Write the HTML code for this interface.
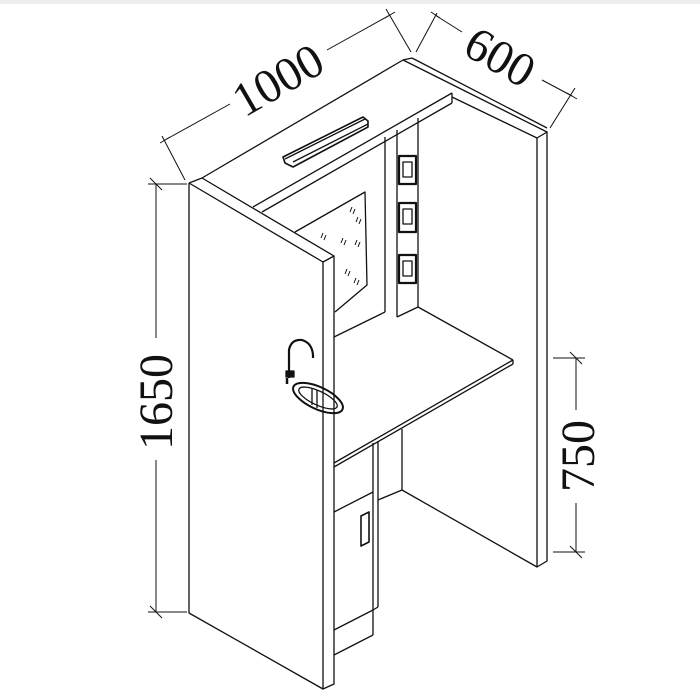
<!DOCTYPE html>
<html><head><meta charset="utf-8"><style>
html,body{margin:0;padding:0;background:#fff;width:700px;height:700px;overflow:hidden}
svg{display:block}
text{font-family:"Liberation Serif",serif;font-size:48px;fill:#111}
</style></head><body>
<svg width="700" height="700" viewBox="0 0 700 700" xmlns="http://www.w3.org/2000/svg">
<rect x="0" y="0" width="700" height="4" fill="#eee"/>
<g fill="none" stroke="#111" stroke-width="1.3" stroke-linejoin="round">
<!-- left side panel -->
<polyline points="189,183 202,178 334,256 323,262 189,183"/>
<polyline points="189,183 189,613 323,689 334,684 334,256"/>
<line x1="323" y1="262" x2="323" y2="689"/>
<!-- top -->
<line x1="202" y1="178" x2="403" y2="60"/>
<line x1="403" y1="60" x2="547" y2="132"/>
<line x1="412" y1="58" x2="547" y2="128"/>
<line x1="403" y1="60" x2="412" y2="58"/>
<!-- right panel -->
<polyline points="537,138 537,567 547,561 547,132 537,138"/>
<line x1="452" y1="97" x2="537" y2="138"/>
<!-- back beam -->
<line x1="253" y1="207" x2="452" y2="93"/>
<line x1="262" y1="212" x2="452" y2="103"/>
<line x1="452" y1="93" x2="452" y2="103"/>
<!-- post -->
<line x1="385" y1="137" x2="385" y2="312"/>
<line x1="397" y1="130" x2="397" y2="317"/>
<line x1="418" y1="118" x2="418" y2="307"/>
<line x1="397" y1="317" x2="418" y2="307"/>
<line x1="334" y1="337" x2="385" y2="312"/>
<!-- pegboard -->
<polyline points="295,232 365,192 367,285 335,312"/>
<g stroke-width="1">
<path d="M321,238 l2,-5 M324,240 l2,-5"/>
<path d="M341,243 l2,-5 M344,245 l2,-5"/>
<path d="M356,222 l2,-5 M359,224 l2,-5"/>
<path d="M355,245 l2,-5 M358,247 l2,-5"/>
<path d="M345,274 l2,-5 M348,276 l2,-5"/>
<path d="M354,283 l2,-5 M357,285 l2,-5"/>
<path d="M350,212 l2,-5 M353,214 l2,-5"/>
</g>
<!-- light bar -->
<polygon points="283,157 363,117 368,121 368,127 293,167 285,163" fill="#fff" stroke-width="1.6"/>
<line x1="285" y1="159" x2="365" y2="119"/>
<line x1="293" y1="162" x2="368" y2="124"/>
<!-- sockets -->
<g stroke-width="2.2">
<rect x="399" y="156" width="17" height="28"/>
<rect x="399" y="203" width="17" height="29"/>
<rect x="399" y="255" width="17" height="28"/>
</g>
<rect x="403" y="162" width="9" height="15"/>
<rect x="403" y="209" width="9" height="15"/>
<rect x="403" y="261" width="9" height="15"/>
<!-- desk -->
<line x1="418" y1="307" x2="513" y2="360"/>
<line x1="513" y1="360" x2="513" y2="364"/>
<line x1="513" y1="364" x2="334" y2="467"/>
<line x1="334" y1="463" x2="513" y2="360"/>
<!-- cabinet -->
<line x1="373" y1="443" x2="373" y2="635"/>
<line x1="378" y1="441" x2="378" y2="607"/>
<line x1="373" y1="610" x2="378" y2="607"/>
<line x1="334" y1="512" x2="373" y2="492"/>
<line x1="334" y1="630" x2="373" y2="610"/>
<line x1="334" y1="655" x2="373" y2="635"/>
<polygon points="361,516 369,512 369,542 361,546" stroke-width="1.6"/>
<line x1="402" y1="429" x2="402" y2="490"/>
<line x1="378" y1="500" x2="402" y2="490"/>
<line x1="402" y1="490" x2="537" y2="567"/>
<!-- faucet -->
<path d="M289,378 L289,350 Q291,339 302,340 Q312,343 313,355 L313,358" stroke-width="2.2"/>
<rect x="286" y="371" width="8" height="6" fill="#111"/>
<line x1="287" y1="378" x2="287" y2="384" stroke-width="2.5"/>
<!-- sink -->
<ellipse cx="318" cy="398" rx="27" ry="11" transform="rotate(25 318 398)" stroke-width="2"/>
<ellipse cx="318" cy="398" rx="21" ry="7" transform="rotate(25 318 398)"/>
<line x1="312" y1="388" x2="312" y2="405"/>
<line x1="317" y1="390" x2="317" y2="408"/>
</g>
<!-- dimensions -->
<g stroke="#111" stroke-width="1" fill="none">
<line x1="185" y1="180" x2="162" y2="136"/>
<line x1="411" y1="52" x2="386" y2="9"/>
<line x1="165" y1="140" x2="230" y2="104"/>
<line x1="327" y1="50" x2="390" y2="15"/>
<line x1="160" y1="143" x2="170" y2="137"/>
<line x1="385" y1="18" x2="395" y2="12"/>
<line x1="416" y1="52" x2="437" y2="13"/>
<line x1="550" y1="128" x2="575" y2="88"/>
<line x1="435" y1="15" x2="462" y2="32"/>
<line x1="542" y1="80" x2="572" y2="96"/>
<line x1="431" y1="12" x2="440" y2="18"/>
<line x1="567" y1="93" x2="577" y2="99"/>
<line x1="156" y1="184" x2="156" y2="338"/>
<line x1="156" y1="460" x2="156" y2="612"/>
<line x1="148" y1="184" x2="187" y2="184"/>
<line x1="148" y1="612" x2="187" y2="612"/>
<line x1="150" y1="178" x2="162" y2="190"/>
<line x1="150" y1="606" x2="162" y2="618"/>
<line x1="576" y1="358" x2="576" y2="410"/>
<line x1="576" y1="503" x2="576" y2="552"/>
<line x1="553" y1="358" x2="585" y2="358"/>
<line x1="553" y1="552" x2="585" y2="552"/>
<line x1="570" y1="352" x2="582" y2="364"/>
<line x1="570" y1="546" x2="582" y2="558"/>
</g>
<text x="278" y="96" text-anchor="middle" transform="rotate(-30 278 80)">1000</text>
<text x="500" y="73" text-anchor="middle" transform="rotate(30 500 57)">600</text>
<text x="156" y="418" text-anchor="middle" transform="rotate(-90 156 402)">1650</text>
<text x="578" y="472" text-anchor="middle" transform="rotate(-90 578 456)">750</text>
</svg>
</body></html>
